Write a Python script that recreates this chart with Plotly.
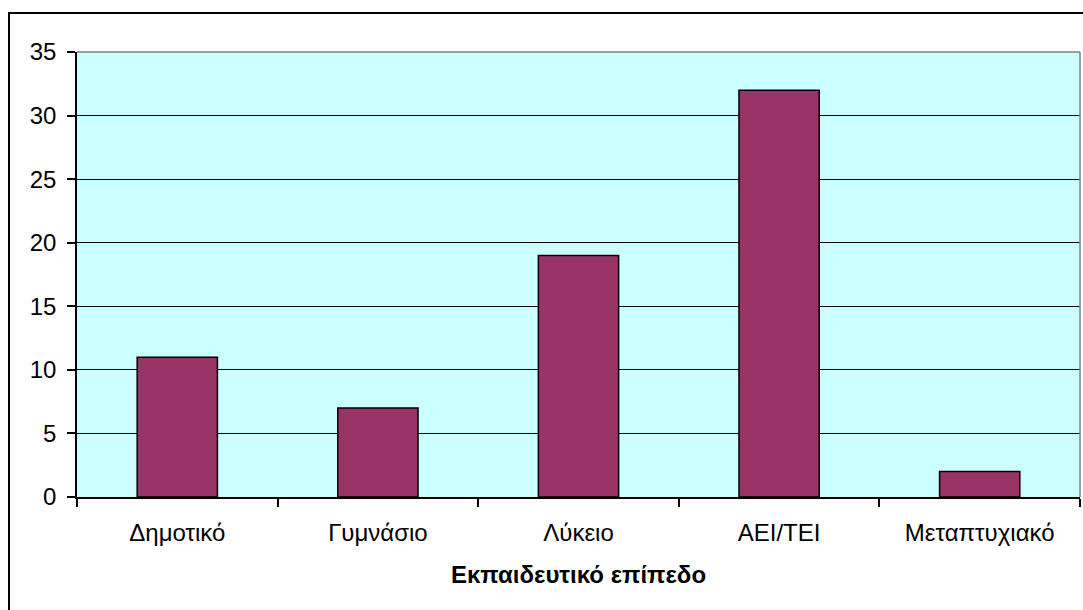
import plotly.graph_objects as go

categories = ["Δημοτικό", "Γυμνάσιο", "Λύκειο", "ΑΕΙ/ΤΕΙ", "Μεταπτυχιακό"]
values = [11, 7, 19, 32, 2]
y_ticks = [0, 5, 10, 15, 20, 25, 30, 35]
x_title = "Εκπαιδευτικό επίπεδο"

FONT = "Liberation Sans, Arial, sans-serif"

fig = go.Figure(
    go.Bar(
        x=categories,
        y=values,
        marker=dict(color="#993366", line=dict(color="black", width=1.5)),
        hoverinfo="x+y",
    )
)

W, H = 1083, 610
L, R, T, B = 77, 3, 52, 113
pw, ph = W - L - R, H - T - B

def px(x):
    return (x - L) / pw

def py(y):
    return (H - B - y) / ph

fig.update_layout(
    width=W,
    height=H,
    margin=dict(l=L, r=R, t=T, b=B, pad=0),
    paper_bgcolor="white",
    plot_bgcolor="#CCFFFF",
    bargap=0.6,
    showlegend=False,
    font=dict(family=FONT, size=24, color="black"),
    xaxis=dict(
        type="category",
        showline=True,
        linecolor="black",
        linewidth=1.5,
        ticks="outside",
        tickson="boundaries",
        ticklen=8,
        tickcolor="black",
        tickwidth=1.5,
        showgrid=False,
        tickfont=dict(size=24),
        ticklabelstandoff=13,
        title=dict(text="<b>" + x_title + "</b>", font=dict(size=24), standoff=22),
    ),
    yaxis=dict(
        range=[0, 35],
        tickvals=y_ticks,
        showline=True,
        linecolor="black",
        linewidth=1.5,
        ticks="outside",
        ticklen=8,
        tickcolor="black",
        tickwidth=1.5,
        showgrid=True,
        gridcolor="black",
        gridwidth=1,
        zeroline=False,
        tickfont=dict(size=24),
        ticklabelstandoff=6,
    ),
    shapes=[
        dict(type="line", xref="paper", yref="paper", x0=0, x1=1, y0=1, y1=1,
             line=dict(color="#808080", width=1.5)),
        dict(type="line", xref="paper", yref="paper", x0=1, x1=1, y0=0, y1=1,
             line=dict(color="#808080", width=1.5)),
        dict(type="rect", xref="paper", yref="paper",
             x0=px(9), x1=px(1095), y0=py(625), y1=py(13),
             line=dict(color="black", width=2), layer="above"),
    ],
)

fig.write_html("out.html")
